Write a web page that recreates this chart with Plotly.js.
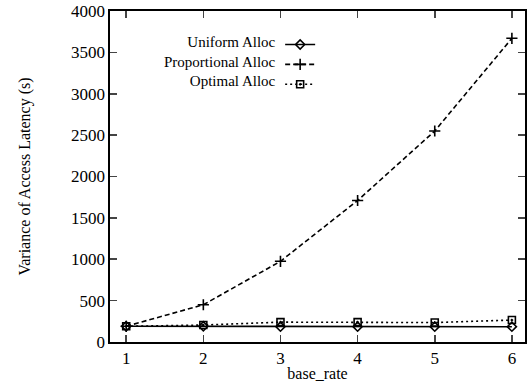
<!DOCTYPE html>
<html><head><meta charset="utf-8">
<script src="https://cdn.plot.ly/plotly-3.0.1.min.js"></script>
<style>body{margin:0;background:#fff}</style>
</head><body>
<div id="chart" style="width:528px;height:391px"></div>
<script>
const baseRate = [1, 2, 3, 4, 5, 6];
const uniformAlloc = [190, 190, 185, 185, 185, 185];
const proportionalAlloc = [190, 450, 975, 1710, 2550, 3670];
const optimalAlloc = [190, 205, 240, 240, 235, 265];
const seriesNames = ['Uniform Alloc', 'Proportional Alloc', 'Optimal Alloc'];

const F = 'Liberation Serif, Times New Roman, serif';
const traces = [
  {x: baseRate, y: uniformAlloc, mode: 'lines+markers', name: ' ',
   line: {color: '#000', width: 1.6, dash: 'solid'},
   marker: {symbol: 'diamond-open', size: 7, color: '#000', line: {width: 1.6}}},
  {x: baseRate, y: proportionalAlloc, mode: 'lines+markers', name: ' ',
   line: {color: '#000', width: 1.6, dash: '5px,3px'},
   marker: {symbol: 'cross-thin-open', size: 8, color: '#000', line: {width: 1.6}}},
  {x: baseRate, y: optimalAlloc, mode: 'lines+markers', name: ' ',
   line: {color: '#000', width: 1.6, dash: '2px,3px'},
   marker: {symbol: 'square-open-dot', size: 7, color: '#000', line: {width: 1.6}}}
];
const annotations = [{
  xref: 'paper', yref: 'paper', x: 0.405, y: 0.846, xanchor: 'right', yanchor: 'middle', align: 'right',
  text: seriesNames.join('<br>'), showarrow: false, font: {family: F, size: 15, color: '#000'}
}];
const layout = {
  width: 528, height: 391,
  margin: {l: 110, r: 3, t: 11, b: 49},
  paper_bgcolor: '#fff', plot_bgcolor: '#fff',
  font: {family: F, size: 13, color: '#000'},
  showlegend: true,
  legend: {x: 0.41, y: 0.944, xanchor: 'left', yanchor: 'top', bgcolor: 'rgba(0,0,0,0)',
           font: {family: F, size: 13}, tracegroupgap: 0},
  annotations: annotations,
  xaxis: {range: [0.79, 6.17], tickvals: baseRate, ticks: 'inside', ticklen: 7, tickwidth: 1.6,
          showline: true, linewidth: 1.6, linecolor: '#000', mirror: 'ticks', showgrid: false, zeroline: false,
          tickfont: {family: F, size: 17, color: '#000'},
          title: {text: 'base_rate', font: {family: F, size: 16}, standoff: 1}},
  yaxis: {range: [0, 4000], dtick: 500, ticks: 'inside', ticklen: 7, tickwidth: 1.6,
          showline: true, linewidth: 1.6, linecolor: '#000', mirror: 'ticks', showgrid: false, zeroline: false,
          tickfont: {family: F, size: 17, color: '#000'},
          title: {text: 'Variance of Access Latency (s)', font: {family: F, size: 16}, standoff: 36}}
};
Plotly.newPlot('chart', traces, layout, {displayModeBar: false, staticPlot: true});
</script>
</body></html>
